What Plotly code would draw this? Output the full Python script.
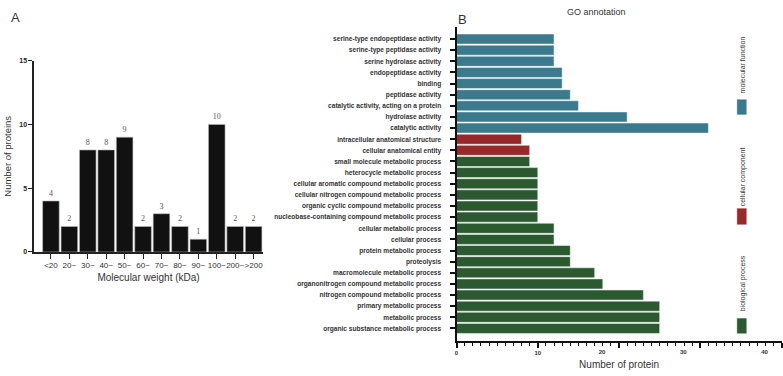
import plotly.graph_objects as go

# ---- Panel A data ----
mw_labels = ["<20", "20~", "30~", "40~", "50~", "60~", "70~", "80~", "90~", "100~", "200~", ">200"]
mw_counts = [4, 2, 8, 8, 9, 2, 3, 2, 1, 10, 2, 2]

# ---- Panel B data (top to bottom) ----
go_terms = [
    "serine-type endopeptidase activity",
    "serine-type peptidase activity",
    "serine hydrolase activity",
    "endopeptidase activity",
    "binding",
    "peptidase activity",
    "catalytic activity, acting on a protein",
    "hydrolase activity",
    "catalytic activity",
    "intracellular anatomical structure",
    "cellular anatomical entity",
    "small molecule metabolic process",
    "heterocycle metabolic process",
    "cellular aromatic compound metabolic process",
    "cellular nitrogen compound metabolic process",
    "organic cyclic compound metabolic process",
    "nucleobase-containing compound metabolic process",
    "cellular metabolic process",
    "cellular process",
    "protein metabolic process",
    "proteolysis",
    "macromolecule metabolic process",
    "organonitrogen compound metabolic process",
    "nitrogen compound metabolic process",
    "primary metabolic process",
    "metabolic process",
    "organic substance metabolic process",
]
go_counts = [12, 12, 12, 13, 13, 14, 15, 21, 31, 8, 9, 9, 10, 10, 10, 10, 10,
             12, 12, 14, 14, 17, 18, 23, 25, 25, 25]
go_class = (["molecular function"] * 9 + ["cellular component"] * 2
            + ["biological process"] * 16)
class_names = ["molecular function", "cellular component", "biological process"]
class_colors = {"molecular function": "#3a7a8c",
                "cellular component": "#98292a",
                "biological process": "#2b5a31"}

x_ticks_b = [0, 10, 20, 30, 40]

W, H = 783, 376
def px(x): return x / W
def py(y): return 1 - y / H

SANS = "Arial, Liberation Sans, sans-serif"
SERIF = "Times New Roman, Liberation Serif, serif"

fig = go.Figure()

# Panel A bars
fig.add_trace(go.Bar(
    x=mw_labels, y=mw_counts, xaxis="x", yaxis="y",
    marker=dict(color="#111111", line=dict(color="#bbbbbb", width=0.6)),
    text=[str(v) for v in mw_counts], textposition="outside",
    textfont=dict(family=SERIF, size=8, color="#555555"),
    cliponaxis=False, showlegend=False,
))

# Panel B bars
fig.add_trace(go.Bar(
    y=go_terms, x=go_counts, orientation="h", xaxis="x2", yaxis="y2",
    marker=dict(color=[class_colors[c] for c in go_class],
                line=dict(color="rgba(255,255,255,0.6)", width=0.8)),
    showlegend=False,
))
# empty helper trace for the overlaid label axis
fig.add_trace(go.Scatter(x=[None], y=[None], xaxis="x3", yaxis="y2",
                         showlegend=False, hoverinfo="skip"))

tickfont_b = dict(size=6, family=SANS, color="#333333", weight="bold")
fig.update_layout(
    width=W, height=H, margin=dict(l=0, r=0, t=0, b=0),
    paper_bgcolor="white", plot_bgcolor="white",
    bargap=0.1,
    font=dict(family=SANS, color="#222222"),
    xaxis=dict(
        domain=[px(32.3), px(261.5)], anchor="y", type="category",
        range=[-0.906, 11.5], showline=True, linecolor="#222222", linewidth=1.5,
        ticks="outside", ticklen=5, tickcolor="#222222", tickwidth=1.2,
        tickfont=dict(size=8, family=SANS, color="#333333"), tickangle=0,
        showgrid=False, zeroline=False,
        title=dict(text="Molecular weight (kDa)", font=dict(size=10, family=SANS, color="#333333"), standoff=5),
    ),
    yaxis=dict(
        domain=[py(252.7), py(57.7)], anchor="x", range=[0, 15],
        tickvals=[0, 5, 10, 15], showline=True, linecolor="#222222", linewidth=1.5,
        ticks="outside", ticklen=4, tickcolor="#222222", tickwidth=1.2,
        tickfont=dict(size=7, family=SANS, color="#222222", weight="bold"),
        showgrid=False, zeroline=False,
        title=dict(text="Number of proteins", font=dict(size=9.5, family=SANS, color="#333333"), standoff=6),
    ),
    xaxis2=dict(
        domain=[px(455.7), px(781.7)], anchor="y2", range=[0, 40.02],
        tickvals=x_ticks_b,
        ticktext=[str(v) if v < 20 else "" for v in x_ticks_b],
        showline=True, linecolor="#111111", linewidth=2,
        ticks="outside", ticklen=5, tickcolor="#111111", tickwidth=2,
        minor=dict(dtick=1, ticks="outside", ticklen=3, tickcolor="#111111", tickwidth=1.2, showgrid=False),
        tickfont=tickfont_b, ticklabeloverflow="allow",
        showgrid=False, zeroline=False,
        title=dict(text="Number of protein", font=dict(size=10, family=SANS, color="#333333"), standoff=6),
    ),
    xaxis3=dict(
        domain=[px(455.7), px(781.7)], anchor="y2", overlaying="x2", side="bottom",
        range=[0, 40.02], tickvals=[v for v in x_ticks_b if v >= 20],
        ticktext=[str(v) for v in x_ticks_b if v >= 20],
        showline=False, ticks="outside", ticklen=5, tickcolor="rgba(0,0,0,0)", tickwidth=2,
        ticklabelshift=-17, ticklabeloverflow="allow",
        tickfont=tickfont_b, showgrid=False, zeroline=False,
    ),
    yaxis2=dict(
        domain=[py(343.3), py(23)], anchor="x2", type="category",
        categoryorder="array", categoryarray=go_terms,
        range=[27.12, -1.12], showline=True, linecolor="#111111", linewidth=2,
        ticks="outside", ticklen=5, tickcolor="#111111", tickwidth=2,
        ticklabelstandoff=7,
        tickfont=dict(size=6.6, family=SANS, color="#333333", weight="bold"),
        showgrid=False, zeroline=False,
    ),
)

annotations = [
    dict(text="A", x=px(14), y=py(14), font=dict(size=13, family=SANS, color="#333333")),
    dict(text="B", x=px(462), y=py(16), font=dict(size=13, family=SANS, color="#333333")),
    dict(text="GO annotation", x=px(596), y=py(8), font=dict(size=9, family=SANS, color="#333333")),
]
for a in annotations:
    a.update(xref="paper", yref="paper", showarrow=False, xanchor="center", yanchor="middle")

# class legend: coloured squares with rotated labels
legend_sq = {"molecular function": (97, 113), "cellular component": (208, 225),
             "biological process": (320, 336)}
legend_txt = {"molecular function": 62, "cellular component": 176,
              "biological process": 285}
shapes = []
for c in class_names:
    y0, y1 = legend_sq[c]
    shapes.append(dict(type="rect", xref="paper", yref="paper",
                       x0=px(736.7), x1=px(746.7), y0=py(y1), y1=py(y0),
                       fillcolor=class_colors[c], line=dict(color="rgba(255,255,255,0.6)", width=0.8)))
    annotations.append(dict(text=c, x=px(742.5), y=py(legend_txt[c]), xref="paper", yref="paper",
                            showarrow=False, textangle=-90, xanchor="center", yanchor="middle",
                            font=dict(size=7, family=SANS, color="#333333")))

fig.update_layout(annotations=annotations, shapes=shapes)
fig.write_html("out.html", config={"displayModeBar": False},
               post_script="document.body.style.margin='0';document.body.style.overflow='hidden';")
